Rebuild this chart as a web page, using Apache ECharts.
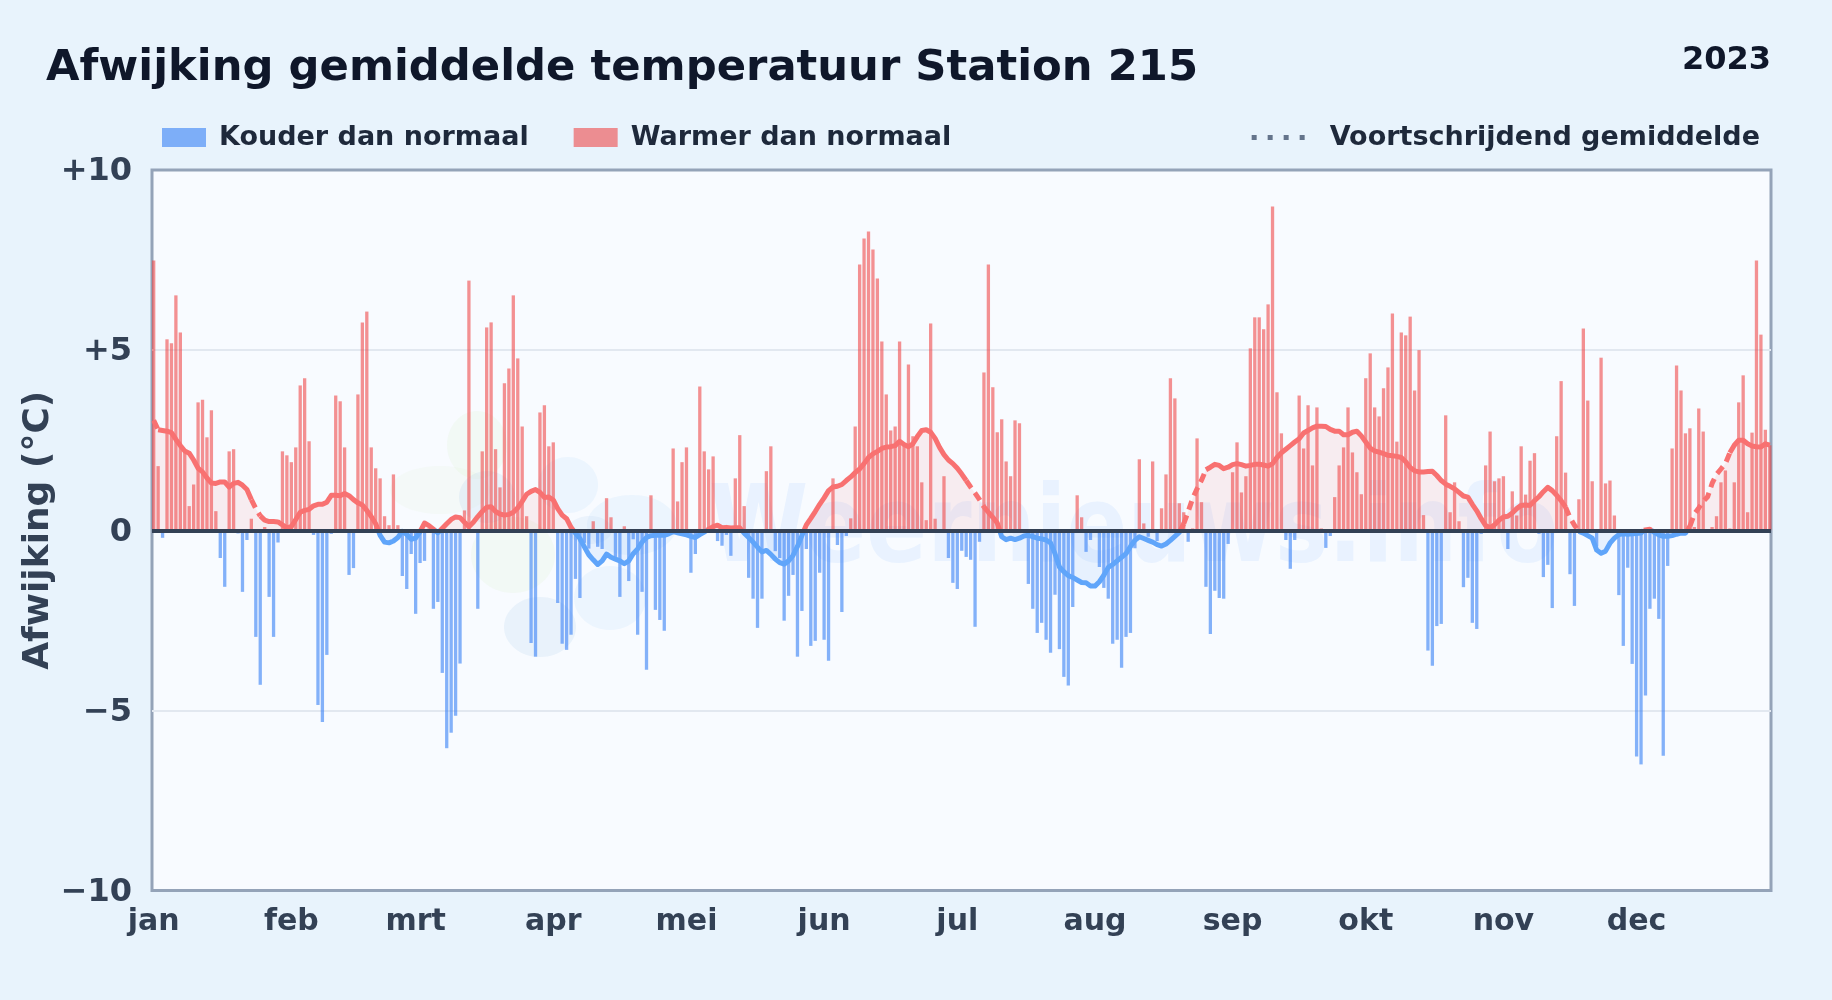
<!DOCTYPE html>
<html><head><meta charset="utf-8">
<script src="https://cdn.jsdelivr.net/npm/echarts@6/dist/echarts.min.js"></script>
<style>html,body{margin:0;padding:0;background:#e8f3fc}#c{width:1832px;height:1000px}</style>
</head><body><div id="c"></div>
<script>
const titleText = "Afwijking gemiddelde temperatuur Station 215";
const yearText = "2023";
const yAxisTitle = "Afwijking (°C)";
const coldName = "Kouder dan normaal";
const warmName = "Warmer dan normaal";
const avgName = "Voortschrijdend gemiddelde";
const watermark = "Weernieuws.info";
const monthLabels = ["jan","feb","mrt","apr","mei","jun","jul","aug","sep","okt","nov","dec"];
const monthStarts = [0,31,59,90,120,151,181,212,243,273,304,334];
const yTicks = {"10":"+10","5":"+5","0":"0","-5":"\u22125","-10":"\u221210"};
// daily deviation per day of year
const dev = [
7.49,1.78,-0.21,5.30,5.19,6.52,5.49,2.20,0.67,1.27,3.55,3.62,2.58,3.33,0.53,-0.77,-1.57,2.19,2.25,-0.09,
-1.71,-0.27,0.32,-2.96,-4.29,0.09,-1.85,-2.96,-0.34,2.19,2.08,1.89,2.30,4.02,4.22,2.47,-0.13,-4.85,-5.32,-3.46,
-0.10,3.74,3.58,2.30,-1.24,-1.05,3.77,5.77,6.07,2.30,1.72,1.44,0.39,0.14,1.55,0.14,-1.27,-1.63,-0.66,-2.32,
-0.91,-0.85,0.05,-2.18,-1.99,-3.96,-6.05,-5.62,-5.15,-3.70,0.55,6.93,0,-2.18,2.19,5.63,5.77,2.25,1.19,4.08,
4.49,6.52,4.77,2.88,0.39,-3.13,-3.51,3.27,3.47,2.33,2.44,-2.02,-3.15,-3.32,-2.90,-1.35,-1.88,-0.35,-0.51,0.25,
-0.46,-0.52,0.89,0.36,-0.74,-1.85,0.11,-1.41,-0.25,-2.90,-1.71,-3.87,0.97,-2.21,-2.49,-2.79,0,2.27,0.80,1.89,
2.30,-1.18,-0.66,3.99,2.19,1.69,2.05,-0.30,-0.43,-0.13,-0.71,1.44,2.64,0.67,-1.32,-1.90,-2.71,-1.90,1.64,2.33,
-0.58,-0.77,-2.51,-1.82,-1.24,-3.51,-2.24,-0.52,-3.21,-3.07,-1.18,-3.04,-3.62,1.44,-0.41,-2.27,-0.16,0.33,2.88,7.38,
8.10,8.29,7.79,6.99,5.24,3.77,2.77,2.88,5.24,2.40,4.60,2.61,2.33,1.33,0.28,5.74,0.32,0,1.50,-0.77,
-1.46,-1.63,-0.57,-0.74,-0.82,-2.68,-0.32,4.38,7.38,3.97,2.72,3.08,1.91,1.50,3.05,2.97,0,-1.49,-2.18,-2.85,
-2.57,-3.04,-3.40,-1.79,-3.30,-4.07,-4.31,-2.13,0.97,0.36,-0.60,-0.27,-0.07,-1.02,-1.60,-1.90,-3.15,-3.04,-3.82,-2.96,
-2.85,-0.50,1.97,0.19,-0.18,1.91,-0.30,0.61,1.55,4.22,3.66,0.75,0.50,-0.32,0.05,2.55,0.78,-1.57,-2.88,-1.68,
-1.88,-1.90,-0.38,1.61,2.44,1.05,1.50,5.05,5.91,5.91,5.58,6.27,8.99,3.83,2.69,-0.27,-1.07,-0.27,3.74,2.27,
3.47,1.80,3.41,0.05,-0.49,-0.16,0.92,1.80,2.30,3.41,2.16,1.61,1.00,4.22,4.91,3.41,3.16,3.94,4.52,6.02,
2.46,5.49,5.41,5.93,3.88,5.00,0.42,-3.34,-3.76,-2.66,-2.60,3.19,0.50,1.33,0.25,-1.58,-1.32,-2.57,-2.74,-0.10,
1.80,2.74,1.36,1.44,1.50,-0.52,1.08,0.41,2.33,0.99,1.93,2.14,-0.10,-1.30,-0.96,-2.16,2.61,4.14,1.60,-1.22,
-2.10,0.86,5.60,3.60,1.36,-0.45,4.79,1.30,1.38,0.41,-1.80,-3.21,-1.04,-3.71,-6.28,-6.50,-4.59,-2.18,-1.90,-2.46,
-6.26,-0.99,2.27,4.57,3.88,2.69,2.83,0.09,3.38,2.74,0,0.09,0.39,1.33,1.66,0.05,1.33,3.55,4.30,0.50,
2.71,7.49,5.43,2.79,2.36];
// rolling mean per day of year
const avg = [
3.05,2.79,2.77,2.75,2.71,2.52,2.35,2.20,2.14,1.95,1.72,1.62,1.45,1.31,1.30,1.34,1.34,1.20,1.30,1.33,
1.25,1.13,0.85,0.60,0.40,0.28,0.24,0.24,0.23,0.15,0.07,0.10,0.30,0.50,0.55,0.58,0.68,0.72,0.72,0.78,
0.97,0.97,0.96,1.02,0.96,0.85,0.76,0.70,0.55,0.38,0.18,-0.14,-0.33,-0.35,-0.30,-0.20,-0.03,-0.12,-0.25,-0.22,
-0.04,0.20,0.13,0.03,-0.07,0.05,0.18,0.30,0.37,0.35,0.22,0.10,0.22,0.38,0.52,0.64,0.65,0.52,0.45,0.42,
0.44,0.50,0.62,0.80,1.00,1.08,1.13,1.05,0.91,0.92,0.84,0.60,0.42,0.32,0.08,-0.08,-0.23,-0.46,-0.68,-0.82,
-0.95,-0.85,-0.66,-0.75,-0.80,-0.85,-0.93,-0.85,-0.65,-0.52,-0.33,-0.20,-0.15,-0.14,-0.13,-0.14,-0.10,-0.04,-0.07,-0.10,
-0.13,-0.17,-0.20,-0.12,-0.05,0.03,0.10,0.14,0.07,0.08,0.06,0.07,0.07,-0.08,-0.20,-0.33,-0.47,-0.60,-0.56,-0.67,
-0.80,-0.90,-0.94,-0.85,-0.70,-0.45,-0.15,0.15,0.33,0.52,0.72,0.90,1.10,1.20,1.22,1.27,1.38,1.48,1.60,1.70,
1.85,2.02,2.12,2.19,2.27,2.31,2.32,2.35,2.47,2.38,2.32,2.40,2.60,2.77,2.79,2.72,2.55,2.30,2.10,1.95,
1.85,1.72,1.56,1.38,1.20,1.03,0.85,0.65,0.50,0.36,0.20,-0.18,-0.26,-0.22,-0.26,-0.22,-0.16,-0.14,-0.18,-0.22,
-0.24,-0.27,-0.35,-0.65,-1.02,-1.15,-1.26,-1.31,-1.38,-1.45,-1.46,-1.55,-1.55,-1.43,-1.25,-1.03,-0.95,-0.85,-0.75,-0.65,
-0.45,-0.28,-0.18,-0.23,-0.28,-0.33,-0.40,-0.44,-0.38,-0.28,-0.17,-0.06,0.18,0.52,0.88,1.15,1.39,1.68,1.75,1.83,
1.80,1.71,1.75,1.82,1.85,1.82,1.78,1.80,1.83,1.83,1.81,1.78,1.85,2.02,2.15,2.25,2.35,2.45,2.54,2.70,
2.77,2.84,2.89,2.89,2.88,2.80,2.75,2.75,2.65,2.65,2.72,2.75,2.62,2.45,2.28,2.20,2.17,2.13,2.08,2.07,
2.05,2.02,1.90,1.74,1.65,1.62,1.62,1.63,1.64,1.52,1.38,1.28,1.22,1.15,1.05,0.95,0.92,0.72,0.54,0.32,
0.13,0.07,0.15,0.28,0.37,0.39,0.48,0.60,0.69,0.70,0.69,0.82,0.93,1.07,1.19,1.10,0.97,0.82,0.64,0.35,
0.14,-0.03,-0.08,-0.15,-0.22,-0.55,-0.64,-0.58,-0.36,-0.22,-0.12,-0.10,-0.11,-0.10,-0.09,-0.08,0.05,0.03,-0.06,-0.13,
-0.17,-0.17,-0.15,-0.11,-0.08,-0.08,0.11,0.45,0.62,0.80,0.93,1.30,1.55,1.70,1.85,2.15,2.36,2.50,2.50,2.40,
2.34,2.32,2.31,2.40,2.36];
// day ranges where the rolling mean is drawn with a broken line
const brokenRanges = [[0,1],[22,24],[183,187],[232,237],[318,321],[346,355]];

const days = dev.map((_, i) => i);
const pick = (arr, test) => arr.map((v, i) => [i, test(v, i) ? v : null]);
const isBrokenSeg = i => brokenRanges.some(r => i >= r[0] && i + 1 <= r[1]);
// splits the rolling mean at the zero line; sign: +1/-1, broken: true/false/null (any)
function splitAvg(sign, broken) {
  const out = [];
  const gap = i => { if (out.length && out[out.length-1][1] !== null) out.push([i, null]); };
  for (let i = 0; i < avg.length - 1; i++) {
    const a = avg[i], b = avg[i+1];
    if (broken !== null && isBrokenSeg(i) !== broken) { gap(i); continue; }
    const aIn = a * sign >= 0, bIn = b * sign >= 0;
    if (!aIn && !bIn) { gap(i); continue; }
    const cross = i + a / (a - b);
    if (aIn) out.push([i, a]); else { gap(i); out.push([cross, 0]); }
    if (bIn) out.push([i+1, b]); else out.push([cross, 0]);
  }
  return out;
}

const chart = echarts.init(document.getElementById('c'), null, {renderer:'canvas'});
const FONT = '"DejaVu Sans"';
const RED_BAR = 'rgba(239,68,68,0.58)', BLUE_BAR = 'rgba(59,130,246,0.62)';
const RED_LINE = '#f87171', BLUE_LINE = '#60a5fa';
const DOT = '#64748b';

const lineS = (name, data, color, type) => ({
  type:'line', name, data, showSymbol:false, symbol:'none', connectNulls:false, z:6, silent:true,
  lineStyle:{color, width:5, type, cap:'butt', join:'round'}, itemStyle:{color}, animation:false
});
const areaS = (data, color) => ({
  type:'line', data, showSymbol:false, symbol:'none', z:3, silent:true,
  lineStyle:{width:0}, areaStyle:{color}, animation:false
});
const blob = (cx, cy, rx, ry, fill) => ({
  type:'ellipse', z:1, silent:true, shape:{cx, cy, rx, ry}, style:{fill}
});

chart.setOption({
  animation:false,
  backgroundColor:'#e8f3fc',
  textStyle:{fontFamily:FONT},
  title:[
    {text:titleText, left:46, top:47, padding:0, textStyle:{fontFamily:FONT, fontWeight:'bold', fontSize:43.3, color:'#0f172a'}},
    {text:yearText, right:61, top:45, padding:0, textStyle:{fontFamily:FONT, fontWeight:'bold', fontSize:32, color:'#0f172a'}}
  ],
  legend:[
    {left:162, top:124, padding:0, itemWidth:44, itemHeight:19, itemGap:45, icon:'rect', selectedMode:false,
     data:[coldName, warmName], textStyle:{fontFamily:FONT, fontWeight:'bold', fontSize:27, color:'#1e293b', padding:[6,0,0,8]}},
    {right:72, top:124, padding:0, itemWidth:57, itemHeight:19, selectedMode:false,
     data:[{name:avgName, itemStyle:{color:'rgba(0,0,0,0)', borderWidth:0, opacity:0},
            lineStyle:{color:DOT, width:5, type:[5,11], cap:'butt'}}],
     textStyle:{fontFamily:FONT, fontWeight:'bold', fontSize:27, color:'#1e293b', padding:[6,0,0,16]}}
  ],
  grid:{left:152, top:170, width:1619, height:720.5, show:true, backgroundColor:'#f8fbff', borderColor:'#94a3b8', borderWidth:3, containLabel:false},
  xAxis:{
    type:'value', min:-0.38, max:364.27,
    axisLine:{show:false}, axisTick:{show:false}, splitLine:{show:false},
    axisLabel:{customValues:monthStarts, formatter:v => monthLabels[monthStarts.indexOf(v)],
      fontFamily:FONT, fontWeight:'bold', fontSize:30, color:'#334155', margin:17, hideOverlap:false}
  },
  yAxis:{
    type:'value', min:-10, max:10, interval:5,
    name:yAxisTitle, nameLocation:'middle', nameGap:95, nameRotate:90, nameMoveOverlap:false,
    nameTextStyle:{fontFamily:FONT, fontWeight:'bold', fontSize:36, color:'#334155'},
    axisLine:{show:false}, axisTick:{show:false},
    splitLine:{showMinLine:false, showMaxLine:false, lineStyle:{color:'#e2e8f0', width:2}},
    axisLabel:{formatter:v => yTicks[String(v)], fontFamily:FONT, fontWeight:'bold', fontSize:32, color:'#334155', margin:20, verticalAlign:'top', lineHeight:4}
  },
  graphic:[
    blob(477,445,30,34,'rgba(225,242,210,0.22)'),
    blob(513,555,42,38,'rgba(225,242,210,0.22)'),
    blob(440,490,50,24,'rgba(225,242,210,0.16)'),
    blob(487,497,28,26,'rgba(190,215,240,0.24)'),
    blob(540,627,36,30,'rgba(190,215,240,0.26)'),
    blob(610,598,36,32,'rgba(200,228,252,0.26)'),
    blob(568,485,30,28,'rgba(200,228,252,0.26)'),
    blob(632,525,45,30,'rgba(200,228,252,0.26)'),
    blob(590,530,22,14,'rgba(190,215,240,0.22)'),
    {type:'text', z:1, silent:true, x:709, y:587, scaleY:1.18,
     style:{text:watermark, fontFamily:FONT, fontWeight:'bold', fontSize:90, verticalAlign:'bottom', fill:'rgba(147,197,253,0.15)'}}
  ],
  series:[
    {type:'bar', name:coldName, data:pick(dev, v => v < 0), barWidth:3.3, barGap:'-100%', z:4, silent:true,
     itemStyle:{color:BLUE_BAR}, animation:false,
     markLine:{silent:true, symbol:'none', z:8, label:{show:false}, lineStyle:{color:'#334155', width:4, type:'solid'}, data:[{yAxis:0}], animation:false}},
    {type:'bar', name:warmName, data:pick(dev, v => v >= 0), barWidth:3.3, barGap:'-100%', z:4, silent:true,
     itemStyle:{color:RED_BAR}, animation:false},
    areaS(splitAvg(1, null), 'rgba(248,113,113,0.15)'),
    areaS(splitAvg(-1, null), 'rgba(96,165,250,0.15)'),
    lineS('warmAvg', splitAvg(1, false), RED_LINE, 'solid'),
    lineS('coldAvg', splitAvg(-1, false), BLUE_LINE, 'solid'),
    lineS('warmAvgBroken', splitAvg(1, true), RED_LINE, [9,6]),
    lineS('coldAvgBroken', splitAvg(-1, true), BLUE_LINE, [9,6]),
    {type:'line', name:avgName, data:[], symbol:'none', silent:true,
     lineStyle:{color:DOT, width:5, type:[5,11], cap:'butt'}, itemStyle:{color:DOT}}
  ]
});
</script></body></html>
